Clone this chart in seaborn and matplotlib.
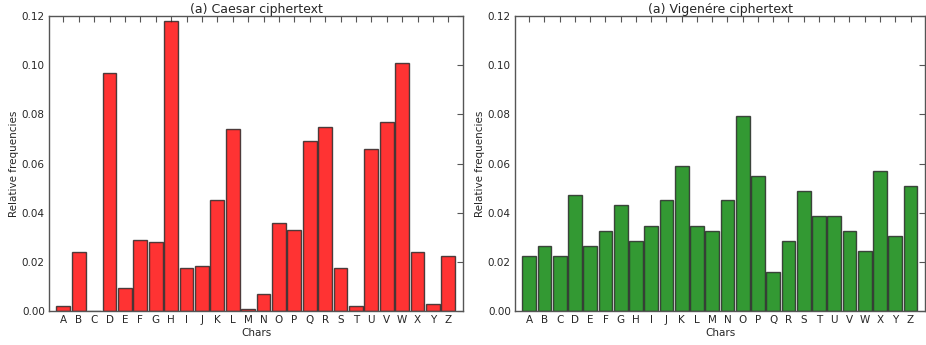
import matplotlib
matplotlib.use("Agg")
import matplotlib.pyplot as plt
import seaborn as sns
import pandas as pd

chars = list("ABCDEFGHIJKLMNOPQRSTUVWXYZ")
caesar = [0.002, 0.024, 0.0, 0.097, 0.0095, 0.029, 0.028, 0.118, 0.0175, 0.0185,
          0.045, 0.074, 0.001, 0.007, 0.036, 0.033, 0.069, 0.075, 0.0175, 0.002,
          0.066, 0.077, 0.101, 0.024, 0.003, 0.0225]
vigenere = [0.0225, 0.0265, 0.0225, 0.047, 0.0265, 0.0325, 0.043, 0.0285, 0.0345, 0.045,
            0.059, 0.0345, 0.0325, 0.045, 0.0795, 0.055, 0.016, 0.0285, 0.049, 0.0385,
            0.0385, 0.0325, 0.0245, 0.057, 0.0305, 0.051]
titles = ["(a) Caesar ciphertext", "(a) Vigenére ciphertext"]
colors = ["red", "green"]
yticks = [0.00, 0.02, 0.04, 0.06, 0.08, 0.10, 0.12]

sns.set_style("white")
plt.rcParams['font.family'] = ['DejaVu Sans']

fig = plt.figure(figsize=(9.26, 3.45), dpi=100)
W, H = 926, 345
ax1 = fig.add_axes([49 / W, 1 - 311 / H, 414 / W, 295 / H])
ax2 = fig.add_axes([515 / W, 1 - 311 / H, 410 / W, 295 / H])

for ax, vals, title, col in zip([ax1, ax2], [caesar, vigenere], titles, colors):
    df = pd.DataFrame({"Chars": chars, "freq": vals})
    sns.barplot(data=df, x="Chars", y="freq", color=col, saturation=1, alpha=0.8,
                width=0.9, edgecolor="#222222", linewidth=1, ax=ax)
    ax.set_xlim(-0.93, 25.95)
    ax.set_ylim(0, 0.12)
    ax.set_yticks(yticks)
    ax.set_yticklabels([f"{v:.2f}" for v in yticks])
    ax.set_title(title, fontsize=9, pad=2)
    ax.set_xlabel("Chars", fontsize=7.5, labelpad=2)
    ax.set_ylabel("Relative frequencies", fontsize=7.5, labelpad=2)
    ax.tick_params(direction="in", top=True, right=True, length=4, width=0.8,
                   labelsize=7.5, pad=3, color="#555555")
    for s in ax.spines.values():
        s.set_visible(True)
        s.set_color("#555555")
        s.set_linewidth(1.0)

fig.savefig("out.png", dpi=100)
